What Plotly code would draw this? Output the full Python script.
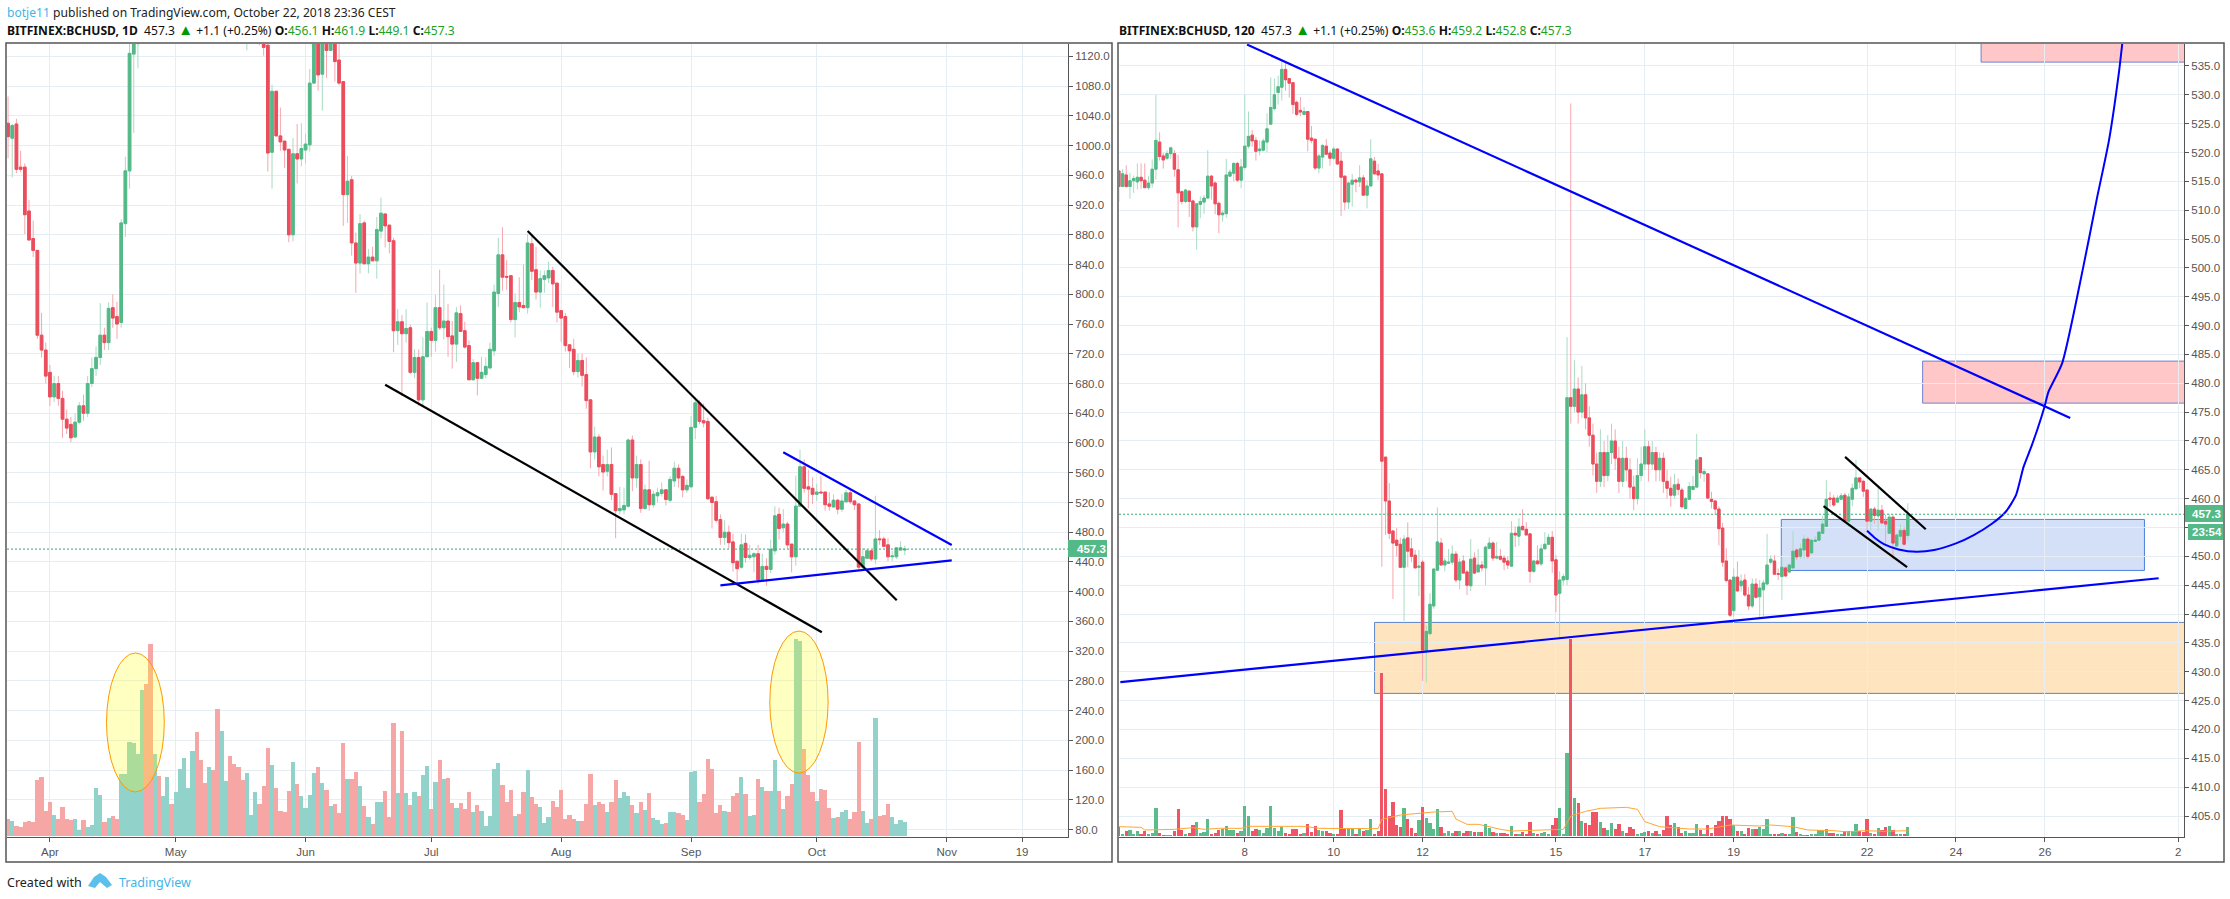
import numpy as np
import pandas as pd
import plotly.graph_objects as go

# ---------- daily chart (left) ----------
D_START = "2018-03-22"
D_OPEN = [1030,1010,1029,971,971,912,875,859,745,725,
695,662,680,660,632,625,608,628,650,640,
680,700,715,745,735,782,770,762,895,966,
1123,1137,1170,1290,1250,1190,1260,1210,1280,1340,
1320,1420,1520,1650,1720,1790,1620,1560,1520,1600,
1540,1380,1440,1480,1360,1300,1270,1210,1290,1310,
1330,1137,1135,991,1073,1013,1006,995,880,989,
982,994,1001,1084,1140,1096,1145,1128,1150,1115,
1086,934,954,869,842,896,841,850,845,885,
908,893,872,751,763,747,755,695,715,658,
716,750,738,782,755,764,744,733,774,751,
731,685,708,687,692,701,724,801,853,824,
825,766,789,785,782,868,833,803,820,822,
832,815,778,770,732,726,696,711,692,658,
588,608,571,562,571,532,509,510,515,604,
553,571,512,537,517,529,532,537,523,549,
566,555,537,541,621,654,630,629,527,521,
497,473,480,467,441,433,465,446,447,451,
416,434,430,455,504,486,491,464,447,515,
568,541,539,531,534,534,518,514,523,511,
521,533,522,518,433,445,455,444,471,471,
463,447,447,456,456.1]
D_CLOSE = [1012,1027,968,968,907,873,859,745,725,690,
662,680,660,632,620,607,628,650,640,680,
700,715,745,735,781,768,760,896,966,1124,
1137,1170,1290,1250,1190,1260,1210,1280,1340,1320,
1420,1520,1650,1720,1790,1620,1560,1520,1600,1540,
1380,1440,1480,1360,1300,1270,1210,1290,1310,1330,
1140,1132,990,1073,1013,1005,994,880,989,982,
996,1002,1084,1145,1095,1150,1128,1150,1113,1084,
934,952,869,842,895,841,850,845,887,909,
892,871,751,763,747,754,695,715,658,716,
750,738,782,755,764,743,733,775,750,729,
685,708,687,695,703,726,803,853,823,823,
766,789,783,782,869,831,803,821,825,832,
814,776,768,731,724,696,711,691,657,588,
608,568,561,571,531,509,512,516,604,553,
571,512,537,517,531,533,537,524,551,566,
553,537,543,621,654,629,627,525,520,496,
473,480,466,439,431,463,446,449,451,416,
434,430,457,502,485,491,463,447,515,568,
539,538,531,534,533,517,515,523,511,522,
533,521,517,433,447,455,444,471,470,461,
447,448,459,459,457.3]
D_HIGH = [1066,1029,1036,993,976,927,899,860,775,735,
705,690,690,670,645,635,640,655,665,690,
715,730,788,755,789,800,790,901,985,1140,
1160,1210,1320,1320,1290,1290,1280,1300,1360,1370,
1450,1560,1700,1760,1840,1800,1650,1600,1630,1620,
1560,1470,1500,1490,1390,1340,1300,1310,1330,1350,
1340,1145,1150,1082,1074,1051,1006,995,1010,1029,
1030,1016,1103,1160,1165,1170,1170,1170,1170,1137,
1086,986,959,883,908,899,861,864,904,930,
908,893,876,780,772,780,759,726,726,742,
789,755,799,833,813,787,764,783,785,763,
738,713,708,716,715,735,813,876,890,846,
825,801,823,840,881,878,864,832,832,844,
837,815,778,775,732,740,720,720,715,658,
622,612,583,591,594,532,541,540,606,610,
583,578,544,576,536,540,547,537,555,575,
571,557,551,636,661,658,653,634,529,529,
504,496,489,478,441,478,477,463,453,463,
451,445,470,515,513,511,494,464,556,591,
578,564,554,545,556,534,534,531,525,531,
537,537,523,518,459,458,456,529,483,474,
472,455,459,468,461.9]
D_LOW = [983,957,963,964,881,873,850,740,715,680,
650,655,650,607,612,601,607,625,630,635,
675,690,705,725,725,755,740,755,877,942,
1017,1104,1165,1230,1170,1180,1195,1200,1270,1290,
1310,1400,1500,1620,1700,1580,1510,1490,1500,1500,
1350,1330,1400,1330,1270,1240,1190,1128,1270,1250,
1135,1121,965,942,1013,993,970,870,871,949,
972,976,992,1084,1074,1047,1091,1128,1086,1081,
892,896,852,802,828,841,828,845,821,875,
863,855,722,732,663,735,693,687,650,649,
716,716,723,752,739,716,700,709,750,727,
685,684,664,687,687,699,717,783,805,806,
762,742,776,781,774,819,793,782,802,815,
783,762,736,723,701,691,688,676,646,566,
578,555,536,555,523,472,504,504,513,535,
540,506,510,509,513,520,528,516,520,541,
540,527,533,541,605,625,621,524,485,493,
463,463,458,427,411,431,439,443,426,411,
416,408,425,450,470,480,458,426,435,515,
533,512,518,522,532,509,509,513,504,507,
519,518,510,430,429,445,441,437,463,461,
441,441,444,456,449.1]
D_VOL = [50,44,29,26,41,44,41,167,176,74,
101,62,50,86,50,47,50,17,47,26,
32,143,122,41,53,59,50,185,185,281,
278,245,437,455,575,245,179,119,176,95,
131,200,233,143,254,311,227,158,206,197,
380,314,164,239,215,206,167,188,62,131,
95,149,263,212,143,74,71,134,221,155,
119,83,122,188,206,158,137,89,95,68,
278,170,170,191,149,89,56,35,101,101,
134,56,338,128,314,128,92,131,119,182,
209,80,161,227,170,173,98,83,98,80,
131,71,92,74,29,59,200,218,152,101,
137,59,65,131,197,116,95,86,38,56,
104,86,137,50,62,50,44,44,95,185,
92,101,95,71,101,167,113,131,119,92,
68,101,77,128,53,47,35,38,71,71,
68,62,47,191,194,101,125,230,200,68,
92,74,71,119,128,176,125,59,62,170,
146,134,134,227,134,80,119,155,590,584,
260,182,131,104,140,137,83,53,56,71,
77,50,71,281,74,38,50,353,59,62,
95,56,35,47,41]
D_TICK_DATES = ["2018-04-01","2018-05-01","2018-06-01","2018-07-01","2018-08-01","2018-09-01","2018-10-01","2018-11-01","2018-11-19"]
D_TICK_TEXT = ["Apr","May","Jun","Jul","Aug","Sep","Oct","Nov","19"]

# ---------- two-hour chart (right) ----------
H_START = "2018-10-05 04:00"
H_OPEN = [516.8,514.1,516.1,
514.1,515.1,514.9,515.7,515.2,513.9,514.7,517.1,521.8,519.4,
519,519.8,519.8,517,513.2,511.5,513.3,511.6,507.1,511,
511.4,512.1,515.9,514.7,511.2,509.2,509.4,515.9,516.4,518.1,
515.2,517.4,521.1,523,522.1,520.3,520.4,521.8,524.9,527.6,
530.4,531.3,534.4,532.8,532.1,528.7,527.3,526.6,527.1,522.5,
522.3,517.3,519.2,521.1,519.9,519,520.6,518.5,515.9,511.4,
514.5,515.2,514.9,515.6,512.6,514.2,518.5,516.8,516.3,467.2,
459.6,454.4,452.8,452.1,448.1,453.2,451.3,450.2,448.1,449,
433.5,436.6,441.4,447.6,452.3,448.5,448.8,449,450.4,445.9,
449.2,447.3,444.9,449.7,447.3,448.5,448,451.4,452.3,449.7,
450,449.7,449.2,448.3,454,453.5,455.2,454.7,453.9,447.4,
449.2,448.7,451.3,452.1,453.3,449.4,443.6,445.9,446,477.5,
476,479,475,478,474,471,466,463,468,464,
468,470,467,463,467,465,462,460,464,466,
469,466,468,465,467,463,461.8,460.6,462.5,461.5,
458.3,459.9,461.6,462,467.1,464.3,464.3,459.9,459.6,458.2,
454.9,449.2,445.9,440.6,446.4,444.9,445.9,443.3,441.4,445.2,
443,444.2,445.2,449,449.2,447,446.5,448,447.3,448,
451.1,450,451.1,453,450.6,452.6,452.8,454,455.2,460.1,
460.1,459.4,459.9,460.6,456.1,459.9,461.7,463.6,463,461.5,
456.1,458.2,457,458,456.1,454,456.8,451.8,453.5,454.5,453.6]
H_CLOSE = [514.1,516.3,514.1,
515.1,515.5,515.7,515.1,513.9,514.7,517.1,522.1,519.3,518.7,
519.8,520.8,517.1,513,511.5,513.5,511.5,507.1,511.1,511.5,
512.1,515.9,514.2,511.1,509.2,509.5,516.1,516.6,518.1,515.2,
517.5,521.1,522.8,522,520.2,520.6,522,524.1,527.8,530,
531.4,534.4,532.6,532,528.3,526.6,527,527.1,522.3,522.1,
517.3,519.4,521.2,519.7,519,520.6,518,515.7,511.4,514.7,
515.2,514.9,515.6,512.6,514.2,518.9,516.3,516.1,466.5,459.6,
454,452.3,451.9,448.1,453,450.9,450,448,448.3,433.75,
437,441.7,447.8,452.5,448.5,449.2,449,450.4,445.9,449,
447.1,445,449.5,447.1,448.5,448,451.6,452.3,449.7,450,
449.5,449,448.5,454,453.7,455.1,454.6,453.7,447.4,449.2,
448.7,451.3,452.1,453.3,449.2,443.3,445.9,446.5,477.5,476,
479,475,478,474,471,466,463,468,464,468,
470,467,463,467,465,462,460,464,466,469,
466,468,465,467,463,461.8,460.6,462.4,461.6,458.6,
460,462.1,462.1,466.7,464.5,464.7,460.1,459.5,458.2,454.8,
449,445.8,439.8,446.4,444,445.7,443.3,441.4,445.2,442.9,
444.5,445.4,448.5,449.5,446.9,446.9,448.1,446.6,448.5,450.9,
449.9,451.3,453,450,452.8,452.8,454.2,455.6,459.9,459.9,
458.9,460.1,460.5,456.1,460.3,461.8,463.6,462.9,461.3,456.1,
458.2,457.1,458,455.8,455.6,456.8,452.3,453.7,454.5,452.1,457.3]
H_HIGH = [516.9,517.1,517.8,
516.4,516,518.1,518.1,518.1,515.9,518.8,530,523.5,519.9,
520.4,521,520.4,519.6,513.4,513.6,513.5,511.8,511.2,512.4,
512.6,520.4,516.1,515,511.5,510,518.9,517.1,518.3,518.4,
518.9,530,527.1,523.9,522.7,522.1,522.4,526.8,533,532.8,
533.3,536,535.6,532.8,532.1,529,529.6,527.9,527.1,524.6,
522.3,519.8,521.5,522.3,520.4,521,520.6,520.1,515.9,514.9,
516.3,515.5,517.8,516.1,515.2,522.3,519.2,518,516.3,467.2,
462.7,454.5,454.9,453.2,453.7,455.9,453.2,451.1,451.1,449.4,
438,443.6,448,458.5,453.2,449.7,451.3,451.9,450.9,449.7,
450.2,447.6,453,450.7,451.3,449.2,451.9,453.3,452.6,452.5,
451.3,450.2,450,456.1,455.2,456.6,458.2,455.9,453.9,449.4,
451.9,452.1,454.2,453.9,454.4,450.2,447.4,447,488,528.5,
484,481,483,480,476,473,468,472,470,471,
473,472,469,470,469,467,464,467,469,472,
470,470,469,468,468,465,463.8,464.3,463.5,461.9,
460.3,462.9,463.9,471.2,467.2,465.2,464.4,461.2,459.8,458.7,
455.8,451.4,445.9,447.9,449.1,446.9,446.9,444.7,446.2,446.2,
445.9,445.9,453.9,450.2,450.2,447.9,449.8,448.2,448.8,454.4,
451.4,452.2,453.7,453.4,452.9,453.5,454.4,457,463.2,461.2,
460.6,460.6,461,461,460.9,462.6,466.7,463.6,463.3,461.5,
458.3,458.6,461.9,458.9,457.2,457.4,457.2,454,455.6,455.1,459.2]
H_LOW = [511.5,514,513.9,
512,513,513.6,513.7,513.9,513.5,513.9,515.3,518.6,517.2,
518.7,518.9,515.8,507,511,511.2,508.8,506.3,503.2,508.6,
509.4,512,511.8,509.3,506,508,508.7,515.8,515,514.9,
513.8,517,520.7,521,518.6,519.5,520.2,520,524.9,527.3,
528.3,529,530.7,529.5,526.7,526.3,526.3,526.5,520.2,521.6,
517,516.4,517.2,519.6,517.7,518.7,517.9,509,510,510.2,
510.6,513.1,514,512.6,510.3,514.2,516.1,515.2,448.2,453.7,
453,442.6,450,448.1,438.8,448.1,449,448,443.1,428.4,
428.1,436.3,440.9,447.6,448.5,447.4,448.8,448.5,445.5,444.3,
447.1,443.3,444,446.9,447.3,447.4,445,451.4,449.2,449.5,
449.3,447.6,447.8,448.3,451.6,451.8,454.6,453.7,445.4,447.1,
448.7,448.3,451.3,452.1,447.1,440.3,435.8,445,445,473,
475,473,474,472,469,464,461,462,462,463,
466,465,461,462,463,460,458,459,463,465,
463,465,463,463,461,460,458.6,460,460.6,458.3,
458.3,459.9,461.4,461.9,463.5,462.9,460,458.3,457.2,451.9,
448.2,445.5,439.5,439.6,444,443.9,443,440.7,441,442.7,
439.5,439.6,445.2,448.6,446.9,445.9,442.4,446.5,447,447.9,
449.4,449.6,449.6,449.6,450.5,452.5,452.7,454,455.2,458.6,
458.6,459.2,459.8,455.9,455.1,458.7,461.6,461.8,460.3,454.5,
454.5,455.7,454.5,455.6,452.2,454,449.5,451.7,452.8,451.9,452.8]
H_VOL = [28,6,15,
18,6,15,6,15,6,9,84,9,2,
2,2,15,81,18,6,9,33,42,9,
12,51,6,9,18,21,30,18,18,9,
15,90,60,15,21,18,9,24,90,24,
15,27,9,6,21,21,6,9,36,12,
30,18,15,15,9,6,6,78,21,21,
21,6,21,15,18,51,6,15,489,141,
60,102,33,27,84,51,24,9,48,87,
54,39,21,81,27,9,15,9,15,15,
9,15,15,12,12,12,36,24,12,9,
9,9,6,30,6,6,12,6,42,9,
6,9,12,6,33,54,84,6,249,592,
114,99,45,39,33,72,72,42,24,18,
39,21,36,15,9,27,21,6,9,12,
15,9,15,6,18,60,33,39,26,10,
15,8,8,36,18,6,33,8,33,45,
60,60,51,33,15,15,6,24,21,21,
27,21,51,6,6,6,8,6,6,57,
12,4,3,3,6,6,18,18,21,8,
8,6,4,15,15,15,36,15,12,51,
8,4,24,18,27,30,18,6,6,6,27]
# volume moving average, read at these bar numbers
MA_BAR = [0,6,7,15,20,23,27,33,35,50,54,70,71,74,76,80,85,90,91,94,97,100,103,106,120,122,126,130,137,140,142,146,151,154,159,165,173,176,182,186,193,197,201,207,213]
MA_VAL = [28,26,18,20,25,20,23,23,29,29,23,22,50,58,63,67,72,74,51,35,35,28,20,15,20,60,74,83,86,80,43,28,24,21,21,33,30,33,28,18,16,12,16,14,16]
H_TICK_DAYS = [8,10,12,15,17,19,22,24,26,29]
H_TICK_TEXT = ["8","10","12","15","17","19","22","24","26","2"]
H_PRICE_TICKS = list(range(405, 536, 5))
CURVE_DAY = [22.0,22.19,22.39,22.71,23.11,23.51,24.0,24.4,24.8,25.12,25.35,25.52,25.68,25.84,25.99,26.08,26.39,26.86,27.17,27.44,27.67,27.74]
CURVE_PRICE = [454.43,453.1,452.07,451.2,450.8,451.1,452.24,453.68,455.6,457.73,460.6,465.5,468.7,472.2,475.9,478.5,483.5,500,512,522,534.1,538.8]

LAST = 457.3
UP, DOWN = "#53b987", "#eb4d5c"
UP_W, DOWN_W = "#a9dcc3", "#f7a6ae"
GRID = "#e6eef4"
AX = "#555555"
W, H = 2230, 899
FONT = "Liberation Sans"
TITLE_FONT = "Noto Sans"


def oct_day(d):
    return (pd.Timestamp("2018-10-01") + pd.Timedelta(days=d - 1)).strftime("%Y-%m-%d %H:%M:%S")


def px(x):
    return x / W


def py(y):
    return 1 - y / H


def candles(x, o, h, l, c, xa, ya):
    o, h, l, c = map(np.array, (o, h, l, c))
    wick = go.Candlestick(x=x, open=o, high=h, low=l, close=c, xaxis=xa, yaxis=ya, whiskerwidth=0,
                          increasing=dict(line=dict(color=UP_W, width=1), fillcolor="rgba(0,0,0,0)"),
                          decreasing=dict(line=dict(color=DOWN_W, width=1), fillcolor="rgba(0,0,0,0)"),
                          hoverinfo="skip", showlegend=False)
    body = go.Candlestick(x=x, open=o, high=np.maximum(o, c), low=np.minimum(o, c), close=c, xaxis=xa, yaxis=ya,
                          whiskerwidth=0,
                          increasing=dict(line=dict(color=UP, width=1), fillcolor=UP),
                          decreasing=dict(line=dict(color=DOWN, width=1), fillcolor=DOWN),
                          hoverinfo="skip", showlegend=False)
    return [wick, body]


d_x = pd.date_range(D_START, periods=len(D_OPEN), freq="D")
h_x = pd.date_range(H_START, periods=len(H_OPEN), freq="2h")
for arr in (D_CLOSE, D_HIGH, D_LOW, D_VOL):
    assert len(arr) == len(D_OPEN), len(arr)
for arr in (H_CLOSE, H_HIGH, H_LOW, H_VOL):
    assert len(arr) == len(H_OPEN), len(arr)

fig = go.Figure()
fig.add_trace(go.Bar(x=d_x, y=D_VOL, width=86400000, xaxis="x", yaxis="y", showlegend=False, hoverinfo="skip",
                     marker=dict(color=["#91d2ca" if c >= o else "#f7a6a6" for o, c in zip(D_OPEN, D_CLOSE)], line_width=0)))
fig.add_trace(go.Bar(x=h_x, y=H_VOL, width=6300000, xaxis="x2", yaxis="y3", showlegend=False, hoverinfo="skip",
                     marker=dict(color=["#5cbb8b" if c >= o else "#ef5665" for o, c in zip(H_OPEN, H_CLOSE)], line_width=0)))
fig.add_trace(go.Scatter(x=h_x[MA_BAR], y=MA_VAL, mode="lines", xaxis="x2", yaxis="y3", showlegend=False, hoverinfo="skip",
                         line=dict(color="#ffa533", width=1)))
for t in candles(d_x, D_OPEN, D_HIGH, D_LOW, D_CLOSE, "x", "y2"):
    fig.add_trace(t)
for t in candles(h_x, H_OPEN, H_HIGH, H_LOW, H_CLOSE, "x2", "y4"):
    fig.add_trace(t)
fig.add_trace(go.Scatter(x=[oct_day(d) for d in CURVE_DAY], y=CURVE_PRICE, mode="lines", xaxis="x2", yaxis="y4",
                         showlegend=False, hoverinfo="skip", line=dict(color="#0000ff", width=2, shape="spline", smoothing=0.6)))


def seg(x0, y0, x1, y1, color, left=True):
    return dict(type="line", x0=x0, y0=y0, x1=x1, y1=y1, xref="x" if left else "x2", yref="y2" if left else "y4",
                line=dict(color=color, width=2.2), layer="above")


def box(x0, y0, x1, y1, fill, edge):
    return dict(type="rect", x0=x0, y0=y0, x1=x1, y1=y1, xref="x2", yref="y4", fillcolor=fill,
                line=dict(color=edge, width=1), layer="below")


def paper_rect(x0, y0, x1, y1, fill="rgba(0,0,0,0)", edge=None, width=1.5):
    return dict(type="rect", xref="paper", yref="paper", x0=px(x0), y0=py(y1), x1=px(x1), y1=py(y0), fillcolor=fill,
                line=dict(color=edge or "rgba(0,0,0,0)", width=width if edge else 0), layer="above")


shapes = [
    box(oct_day(10.92), 426.25, oct_day(32), 438.55, "rgba(255,152,0,0.25)", "#5b84cc"),
    box(oct_day(20.07), 447.56, oct_day(28.24), 456.4, "rgba(33,100,220,0.2)", "#4d80dc"),
    box(oct_day(23.25), 476.56, oct_day(32), 483.84, "rgba(255,0,0,0.22)", "#6f7fd0"),
    box(oct_day(24.565), 535.66, oct_day(32), 545, "rgba(255,0,0,0.22)", "#6f7fd0"),
    dict(type="line", xref="x domain", yref="y2", x0=0, x1=1, y0=LAST, y1=LAST, layer="above",
         line=dict(color="#3aa876", width=1, dash="2px,2px")),
    dict(type="line", xref="x2 domain", yref="y4", x0=0, x1=1, y0=LAST, y1=LAST, layer="above",
         line=dict(color="#3aa876", width=1, dash="2px,2px")),
    dict(type="circle", xref="x", yref="y2", x0="2018-04-14 12:00", x1="2018-04-28 07:00", y0=130.7, y1=317.6,
         fillcolor="rgba(255,255,0,0.24)", line=dict(color="#ff9800", width=1), layer="above"),
    dict(type="circle", xref="x", yref="y2", x0="2018-09-19 19:00", x1="2018-10-03 17:00", y0=156, y1=347.1,
         fillcolor="rgba(255,255,0,0.24)", line=dict(color="#ff9800", width=1), layer="above"),
    seg("2018-07-24 00:00", 885, "2018-10-20 02:00", 388.4, "#000000"),
    seg("2018-06-20 00:00", 678.4, "2018-10-02 05:00", 345.4, "#000000"),
    seg("2018-09-23 00:00", 587.5, "2018-11-02 05:00", 462.8, "#0000ff"),
    seg("2018-09-08 00:00", 408.6, "2018-11-02 05:00", 442.2, "#0000ff"),
    seg(oct_day(8.05), 538.7, oct_day(26.57), 474, "#0000ff", False),
    seg(oct_day(5.2), 428.2, oct_day(28.56), 446.2, "#0000ff", False),
    seg(oct_day(21.505), 467.25, oct_day(23.32), 454.7, "#000000", False),
    seg(oct_day(21.02), 458.7, oct_day(22.9), 448.14, "#000000", False),
    paper_rect(6, 43, 1112, 862, edge=AX),
    paper_rect(1118, 43, 2224, 862, edge=AX),
    paper_rect(1068, 540, 1107, 557, fill=UP),
    paper_rect(2185, 505, 2223, 522, fill=UP),
    paper_rect(2188, 524, 2223, 540, fill=UP),
    dict(type="path", xref="paper", yref="paper", fillcolor="#5bc0eb", line=dict(width=0), layer="above",
         path="M %f %f L %f %f L %f %f L %f %f L %f %f L %f %f L %f %f L %f %f Z" % (
             px(88), py(886), px(94), py(877), px(100), py(873), px(106), py(877),
             px(112), py(885), px(107), py(888), px(100), py(882), px(95), py(888))),
]


def text(x, y, s, size=12, color="#222222", family=TITLE_FONT, anchor="left"):
    return dict(xref="paper", yref="paper", x=px(x), y=py(y), text=s, showarrow=False, xanchor=anchor, yanchor="middle",
                font=dict(size=size, color=color, family=family), align=anchor, borderpad=0)


def g(s):
    return f'<span style="color:#1fa11f">{s}</span>'


TRI = '<span style="color:#009900;font-size:15px">▲</span>'
annotations = [
    text(6, 12, '<span style="color:#42b4e6">botje11</span> published on TradingView.com, October 22, 2018 23:36 CEST', 12.1),
    text(6, 29, f'<b>BITFINEX:BCHUSD, 1D</b>  457.3 {TRI} +1.1 (+0.25%) <b>O:</b>{g("456.1")} <b>H:</b>{g("461.9")} <b>L:</b>{g("449.1")} <b>C:</b>{g("457.3")}', 12.1, "#111111"),
    text(1118, 29, f'<b>BITFINEX:BCHUSD, 120</b>  457.3 {TRI} +1.1 (+0.25%) <b>O:</b>{g("453.6")} <b>H:</b>{g("459.2")} <b>L:</b>{g("452.8")} <b>C:</b>{g("457.3")}', 12.1, "#111111"),
    text(6, 882, "Created with", 12.5),
    text(118, 882, "TradingView", 12.5, "#42b4e6"),
    text(1076, 548.5, "<b>457.3</b>", 11.5, "#ffffff", FONT),
    text(2191, 513.5, "<b>457.3</b>", 11.5, "#ffffff", FONT),
    text(2191, 532, "<b>23:54</b>", 11.5, "#ffffff", FONT),
]

axis_font = dict(size=11.5, color="#555555", family=FONT)
xcommon = dict(type="date", showgrid=True, gridcolor=GRID, gridwidth=1, showline=True, linecolor=AX, linewidth=1,
               ticks="outside", ticklen=4, tickcolor=AX, tickfont=axis_font, tickmode="array", zeroline=False,
               rangeslider=dict(visible=False), tickangle=0)
pcommon = dict(showgrid=True, gridcolor=GRID, gridwidth=1, showline=True, linecolor=AX, linewidth=1, ticks="outside",
               ticklen=4, tickcolor=AX, tickfont=axis_font, side="right", zeroline=False)
vcommon = dict(visible=False, showgrid=False, zeroline=False)

x_dom_l = [px(7), px(1068)]
x_dom_r = [px(1119), px(2184)]
y_dom = [py(837), py(44)]

fig.update_layout(
    width=W, height=H, margin=dict(l=0, r=0, t=0, b=0, autoexpand=False), paper_bgcolor="white", plot_bgcolor="white",
    barmode="overlay", bargap=0, boxgap=0.1, showlegend=False, dragmode=False, shapes=shapes, annotations=annotations,
    xaxis=dict(domain=x_dom_l, range=["2018-03-21 18:00", "2018-11-29 23:00"], anchor="y", tickvals=D_TICK_DATES,
               ticktext=D_TICK_TEXT, **xcommon),
    xaxis2=dict(domain=x_dom_r, range=[oct_day(5.17), oct_day(29.13)], anchor="y3",
                tickvals=[oct_day(d) for d in H_TICK_DAYS], ticktext=H_TICK_TEXT, **xcommon),
    yaxis=dict(domain=y_dom, range=[-4, 2375], anchor="x", **vcommon),
    yaxis2=dict(domain=y_dom, range=[70.1, 1136.6], anchor="x", overlaying="y", tickmode="linear", tick0=80, dtick=40,
                tickformat=".1f", **pcommon),
    yaxis3=dict(domain=y_dom, range=[-3, 2376], anchor="x2", **vcommon),
    yaxis4=dict(domain=y_dom, range=[401.36, 538.8], anchor="x2", overlaying="y3", tickmode="array",
                tickvals=H_PRICE_TICKS, ticktext=["" if v == 455 else f"{v:.1f}" for v in H_PRICE_TICKS], **pcommon),
)

fig.write_html("out.html", config={"displayModeBar": False},
               post_script="document.body.style.margin='0';document.documentElement.style.overflow='hidden';")
